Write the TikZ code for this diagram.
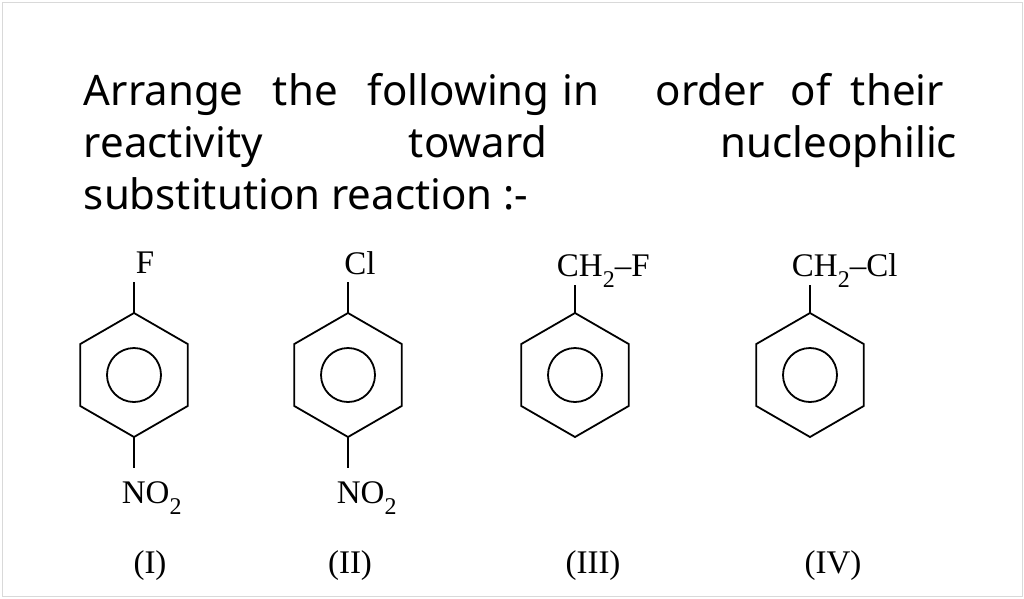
\documentclass[tikz,border=0pt]{standalone}
\usepackage{fontspec}
\setmainfont{Liberation Serif}
\newfontfamily\qsans{Noto Sans}
\newcommand{\sbt}[1]{\raisebox{-0.35em}{\fontsize{24}{24}\selectfont #1}}
\begin{document}
\begin{tikzpicture}[x=1pt,y=-1pt,line width=1.8pt,
  lab/.style={inner sep=0pt,font=\fontsize{33}{33}\selectfont},
  ttl/.style={inner sep=0pt,anchor=base west,font=\qsans\fontsize{42}{42}\selectfont}]
\useasboundingbox (0,0) rectangle (1024,598);
\draw[line width=1pt,black!15] (2,2) rectangle (1022,596);
\foreach \w/\x [count=\i] in {Arrange/83,the/272,following/367,in/562,order/655,of/790,their/850}
  \node[ttl] (w\i) at (\x,105) {\w};
\node[ttl] (t2a) at (83,157) {reactivity};
\node[ttl] (t2b) at (408,157) {toward};
\node[ttl,anchor=base east] (t2c) at (958,157) {nucleophilic};
\node[ttl] (t3) at (83,209) {substitution reaction :-};
\foreach \n/\cx in {a/134,b/348,c/575,d/810}{
  \draw (\cx,313) -- (\cx+53.7,344) -- (\cx+53.7,406) -- (\cx,437) -- (\cx-53.7,406) -- (\cx-53.7,344) -- cycle;
  \draw (\cx,375) circle (27);
  \coordinate (top\n) at (\cx,313);
  \coordinate (bot\n) at (\cx,437);
}
\node[lab] (F) at (145,263) {F};
\node[lab] (Cl) at (360,263) {Cl};
\draw (topa) -- (134,282);
\draw (topb) -- (348,282);
\draw (bota) -- (134,468);
\draw (botb) -- (348,468);
\node[lab,anchor=base west] (N1) at (121,503) {NO\sbt{2}};
\node[lab,anchor=base west] (N2) at (336,503) {NO\sbt{2}};
\draw (topc) -- (575,285);
\draw (topd) -- (810,285);
\node[lab,anchor=base west] (C3) at (556,276) {CH\sbt{2}--F};
\node[lab,anchor=base west] (C4) at (791,276) {CH\sbt{2}--Cl};
\node[lab] (L1) at (150,566) {(I)};
\node[lab] (L2) at (350,566) {(II)};
\node[lab] (L3) at (593,566) {(III)};
\node[lab] (L4) at (833,566) {(IV)};
\end{tikzpicture}
\end{document}
